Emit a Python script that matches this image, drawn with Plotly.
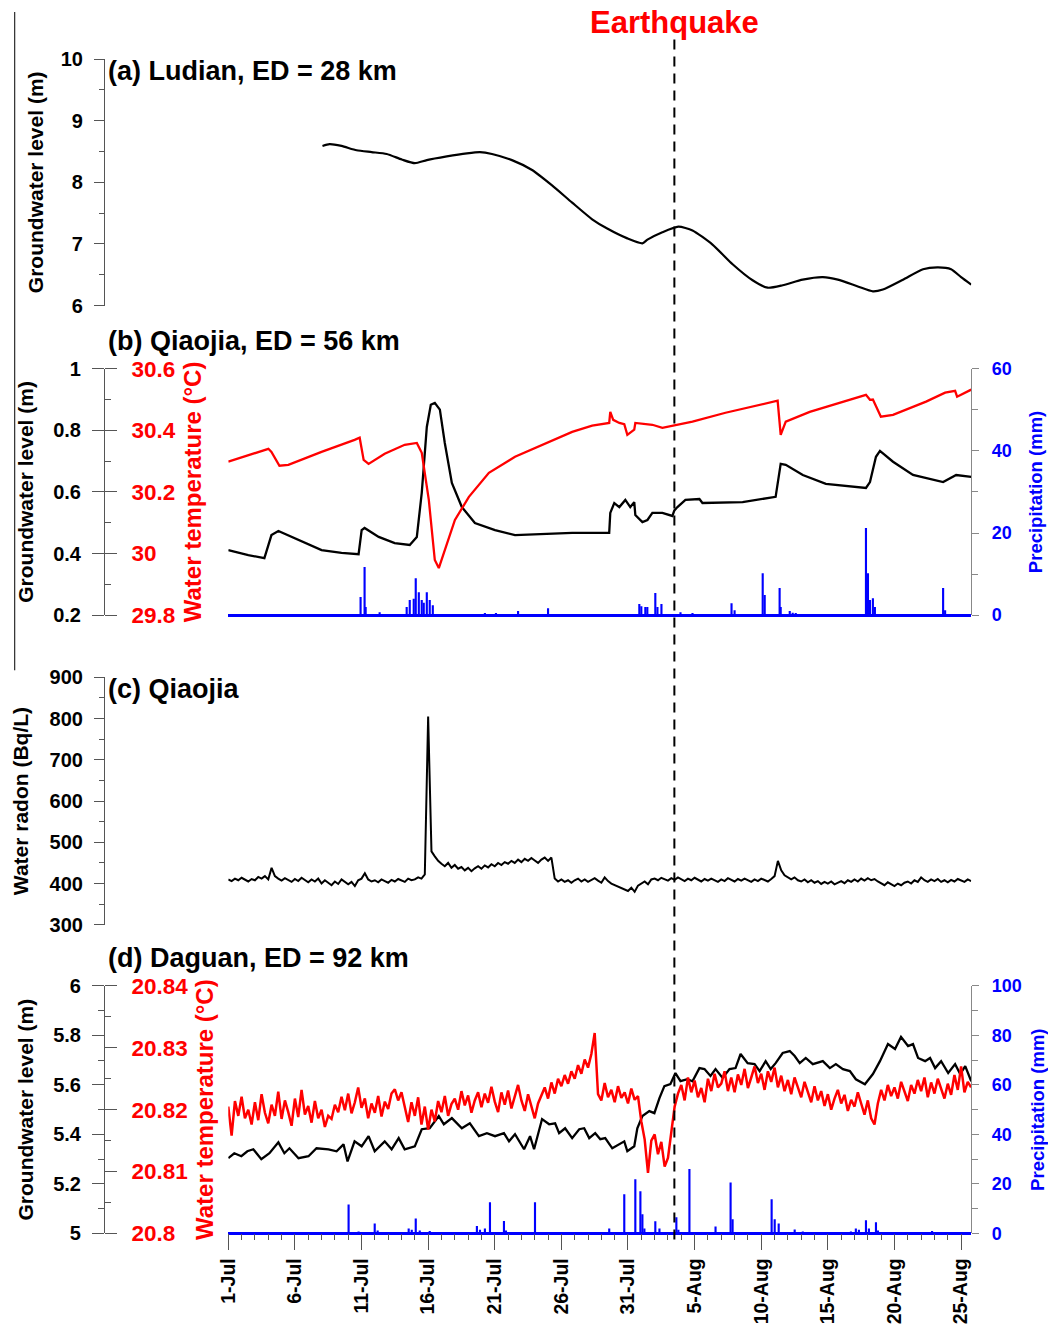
import plotly.graph_objects as go
import pandas as pd

# ---------------- DATA (days after 2014-07-01 00:00) ----------------
EQ_DAY = 33.48  # Ludian earthquake marker

# (a) Ludian groundwater level (m)
LUDIAN_GW = [(7.07, 8.59), (7.60, 8.62), (8.50, 8.59), (9.63, 8.52), (10.76, 8.49),
             (11.89, 8.46), (13.02, 8.37), (14.00, 8.31), (14.90, 8.36), (16.40, 8.42),
             (17.91, 8.47), (18.89, 8.49), (19.79, 8.46), (21.29, 8.36), (22.80, 8.20),
             (24.30, 7.95), (25.81, 7.67), (27.31, 7.40), (28.44, 7.25), (29.95, 7.09),
             (31.08, 7.01), (31.46, 7.07), (32.58, 7.19), (33.78, 7.28), (34.84, 7.22),
             (36.34, 6.99), (37.85, 6.67), (39.35, 6.41), (40.48, 6.29), (41.61, 6.33),
             (43.11, 6.42), (44.62, 6.46), (45.75, 6.42), (47.25, 6.31), (48.38, 6.23),
             (49.13, 6.26), (50.64, 6.42), (52.14, 6.59), (53.27, 6.62), (54.25, 6.59),
             (55.00, 6.46), (55.76, 6.34)]

# (b) Qiaojia groundwater level (m)
QIAOJIA_GW = [(0.00, 0.411), (1.50, 0.395), (2.71, 0.385), (3.24, 0.460), (3.76, 0.473),
              (5.27, 0.444), (7.00, 0.411), (8.50, 0.402), (9.78, 0.398), (10.01, 0.476),
              (10.23, 0.483), (11.29, 0.454), (12.49, 0.434), (13.62, 0.428), (14.15, 0.454),
              (14.52, 0.597), (14.90, 0.811), (15.20, 0.883), (15.50, 0.889), (15.88, 0.867),
              (16.25, 0.759), (16.78, 0.629), (17.53, 0.551), (18.51, 0.499), (20.02, 0.476),
              (21.52, 0.460), (23.33, 0.463), (25.81, 0.467), (27.31, 0.467), (28.59, 0.467),
              (28.67, 0.532), (28.97, 0.564), (29.35, 0.551), (29.80, 0.574), (30.17, 0.551),
              (30.47, 0.567), (30.55, 0.525), (31.08, 0.502), (31.46, 0.509), (31.83, 0.532),
              (32.58, 0.532), (33.33, 0.522), (33.48, 0.540), (33.71, 0.551), (34.31, 0.574),
              (35.36, 0.577), (35.59, 0.564), (38.60, 0.567), (41.08, 0.584), (41.46, 0.691),
              (41.84, 0.688), (43.12, 0.655), (44.85, 0.626), (46.88, 0.616), (47.86, 0.613),
              (48.16, 0.632), (48.61, 0.714), (48.91, 0.733), (49.89, 0.698), (51.39, 0.655),
              (53.65, 0.632), (54.63, 0.655), (55.76, 0.649)]

# (b) Qiaojia water temperature (degC)
QIAOJIA_TEMP = [(0.00, 30.298), (1.50, 30.320), (3.01, 30.340), (3.24, 30.330), (3.84, 30.285),
                (4.51, 30.288), (7.00, 30.330), (9.48, 30.369), (9.86, 30.376), (10.16, 30.304),
                (10.53, 30.291), (11.74, 30.324), (13.24, 30.353), (14.15, 30.359), (14.52, 30.327),
                (15.05, 30.174), (15.50, 29.979), (15.80, 29.953), (16.25, 30.011), (17.01, 30.109),
                (18.06, 30.184), (19.56, 30.262), (21.52, 30.314), (23.55, 30.353), (25.81, 30.395),
                (27.31, 30.415), (28.59, 30.424), (28.67, 30.460), (28.89, 30.434), (29.35, 30.424),
                (29.72, 30.420), (29.95, 30.385), (30.47, 30.402), (30.55, 30.424), (31.83, 30.418),
                (32.58, 30.408), (33.48, 30.415), (34.84, 30.428), (37.32, 30.457), (39.88, 30.483),
                (41.23, 30.496), (41.46, 30.385), (41.84, 30.428), (43.64, 30.460), (46.13, 30.493),
                (47.86, 30.515), (48.16, 30.499), (48.38, 30.500), (48.98, 30.444), (49.89, 30.450),
                (52.37, 30.493), (53.80, 30.522), (54.55, 30.528), (54.70, 30.509), (55.76, 30.532)]

# (b) Qiaojia precipitation (mm)
QIAOJIA_RAIN = [(9.93, 4.4), (10.23, 11.7), (10.31, 2.0), (11.36, 0.7), (13.39, 2.0), (13.62, 3.7),
                (13.92, 4.0), (14.07, 9.0), (14.30, 5.6), (14.52, 3.7), (14.67, 3.0), (14.90, 5.6),
                (15.12, 3.7), (15.35, 2.4), (19.26, 0.5), (20.09, 0.5), (21.75, 1.0), (24.00, 1.7),
                (30.85, 2.7), (31.00, 2.2), (31.30, 2.0), (31.45, 2.0), (32.05, 5.4), (32.21, 2.0),
                (32.51, 2.7), (33.94, 0.7), (34.84, 0.5), (37.77, 2.9), (38.00, 1.2), (40.11, 10.2),
                (40.26, 4.9), (41.38, 6.6), (41.46, 2.0), (42.14, 1.0), (42.36, 0.6), (42.59, 0.5),
                (47.86, 21.2), (48.01, 10.2), (48.16, 3.7), (48.38, 4.1), (48.53, 2.0), (53.65, 6.6),
                (53.80, 1.2)]

# (c) Qiaojia water radon (Bq/L), every 6 h
RADON = [410, 406, 412, 408, 414, 409, 405, 411, 408, 416, 412, 418, 410, 438, 418, 412,
         407, 413, 409, 404, 411, 406, 414, 409, 403, 410, 405, 412, 400, 408, 402, 396,
         405, 399, 410, 403, 398, 404, 394, 408, 412, 425, 410, 405, 408, 403, 410, 406,
         402, 409, 405, 411, 407, 404, 412, 408, 410, 415, 412, 422, 805, 478, 466, 455,
         448, 442, 450, 438, 445, 436, 440, 432, 438, 430, 437, 442, 436, 444, 439, 447,
         442, 450, 445, 452, 448, 455, 450, 458, 452, 460, 455, 462, 456, 450, 458, 463,
         455, 463, 412, 405, 410, 404, 408, 402, 408, 412, 405, 410, 404, 409, 413, 407,
         402, 415, 406, 400, 396, 392, 388, 385, 382, 390, 380, 395, 400, 405, 398, 410,
         412, 408, 414, 410, 407, 413, 409, 415, 410, 406, 412, 408, 414, 409, 405, 411,
         407, 412, 408, 404, 410, 406, 413, 409, 405, 411, 407, 412, 408, 404, 410, 406,
         412, 408, 405, 411, 418, 455, 432, 420, 414, 410, 415, 408, 405, 410, 403, 408,
         402, 406, 399, 404, 400, 405, 398, 403, 406, 401, 408, 404, 410, 405, 412, 407,
         413, 408, 411, 405, 400, 396, 403, 398, 394, 400, 396, 402, 405, 400, 408, 404,
         415, 408, 404, 410, 406, 411, 404, 408, 403, 409, 405, 411, 407, 404, 410, 406]

# (d) Daguan groundwater level (m)
DAGUAN_GW = [(0.00, 5.304), (0.45, 5.324), (0.98, 5.312), (1.43, 5.332), (1.88, 5.340),
             (2.48, 5.300), (3.09, 5.324), (3.76, 5.368), (4.21, 5.324), (4.59, 5.344),
             (5.27, 5.304), (6.02, 5.312), (6.62, 5.344), (7.52, 5.340), (8.13, 5.332),
             (8.65, 5.360), (8.95, 5.291), (9.48, 5.372), (10.01, 5.352), (10.53, 5.393),
             (10.99, 5.332), (11.74, 5.372), (12.26, 5.340), (12.79, 5.385), (13.24, 5.340),
             (14.00, 5.352), (14.52, 5.421), (15.12, 5.425), (15.80, 5.474), (16.18, 5.441),
             (16.78, 5.466), (17.53, 5.425), (18.13, 5.445), (18.81, 5.393), (19.41, 5.405),
             (20.02, 5.393), (20.69, 5.405), (21.07, 5.372), (21.52, 5.401), (22.20, 5.340),
             (22.65, 5.393), (22.95, 5.340), (23.55, 5.462), (24.08, 5.441), (24.53, 5.445),
             (24.83, 5.405), (25.28, 5.425), (25.81, 5.385), (26.34, 5.421), (26.71, 5.425),
             (27.09, 5.385), (27.54, 5.405), (27.92, 5.381), (28.29, 5.385), (28.82, 5.344),
             (29.35, 5.360), (29.72, 5.372), (29.95, 5.332), (30.47, 5.352), (30.70, 5.425),
             (31.08, 5.474), (31.60, 5.494), (31.98, 5.486), (32.36, 5.547), (32.73, 5.595),
             (33.18, 5.603), (33.56, 5.648), (33.94, 5.615), (34.46, 5.623), (34.84, 5.615),
             (35.36, 5.668), (35.74, 5.664), (36.19, 5.636), (36.57, 5.664), (37.10, 5.628),
             (37.62, 5.664), (38.07, 5.668), (38.45, 5.725), (38.98, 5.688), (39.50, 5.684),
             (39.88, 5.656), (40.33, 5.696), (40.71, 5.664), (41.08, 5.688), (41.61, 5.729),
             (42.14, 5.737), (42.51, 5.717), (42.89, 5.688), (43.34, 5.709), (43.87, 5.684),
             (44.62, 5.696), (45.15, 5.668), (45.60, 5.684), (46.13, 5.664), (46.65, 5.656),
             (47.10, 5.623), (47.78, 5.603), (48.38, 5.644), (48.91, 5.696), (49.51, 5.765),
             (50.04, 5.745), (50.49, 5.794), (51.02, 5.757), (51.39, 5.765), (51.77, 5.709),
             (52.30, 5.696), (52.67, 5.709), (53.05, 5.668), (53.50, 5.696), (54.03, 5.648),
             (54.55, 5.684), (54.93, 5.644), (55.31, 5.676), (55.76, 5.615)]

# (d) Daguan water temperature (degC), every 6 h
DAGUAN_TEMP = [
    20.8205, 20.8158, 20.8214, 20.8190, 20.8221, 20.8186, 20.8200, 20.8176,
    20.8212, 20.8183, 20.8225, 20.8195, 20.8178, 20.8208, 20.8190, 20.8229,
    20.8185, 20.8215, 20.8196, 20.8174, 20.8218, 20.8188, 20.8232, 20.8192,
    20.8206, 20.8179, 20.8214, 20.8186, 20.8200, 20.8172, 20.8190, 20.8185,
    20.8208, 20.8196, 20.8221, 20.8199, 20.8226, 20.8194, 20.8212, 20.8236,
    20.8203, 20.8218, 20.8186, 20.8210, 20.8195, 20.8222, 20.8189, 20.8213,
    20.8201, 20.8226, 20.8233, 20.8215, 20.8228, 20.8205, 20.8180, 20.8212,
    20.8190, 20.8220, 20.8176, 20.8205, 20.8168, 20.8200, 20.8181, 20.8214,
    20.8196, 20.8222, 20.8190, 20.8209, 20.8218, 20.8200, 20.8230, 20.8207,
    20.8223, 20.8195, 20.8215, 20.8228, 20.8204, 20.8226, 20.8211, 20.8237,
    20.8213, 20.8196, 20.8228, 20.8208, 20.8231, 20.8202, 20.8219, 20.8240,
    20.8215, 20.8198, 20.8225, 20.8206, 20.8186, 20.8210, 20.8222, 20.8236,
    20.8218, 20.8244, 20.8226, 20.8250, 20.8238, 20.8256, 20.8242, 20.8262,
    20.8250, 20.8272, 20.8258, 20.8281, 20.8268, 20.8290, 20.8324, 20.8225,
    20.8215, 20.8243, 20.8220, 20.8232, 20.8212, 20.8238, 20.8219, 20.8228,
    20.8210, 20.8234, 20.8216, 20.8222, 20.8181, 20.8152, 20.8098, 20.8150,
    20.8160, 20.8128, 20.8148, 20.8108, 20.8122, 20.8165, 20.8205, 20.8226,
    20.8240, 20.8215, 20.8252, 20.8228, 20.8247, 20.8220, 20.8235, 20.8212,
    20.8250, 20.8230, 20.8258, 20.8236, 20.8242, 20.8262, 20.8230, 20.8252,
    20.8228, 20.8257, 20.8240, 20.8266, 20.8235, 20.8252, 20.8270, 20.8243,
    20.8258, 20.8232, 20.8262, 20.8245, 20.8268, 20.8236, 20.8255, 20.8230,
    20.8248, 20.8225, 20.8252, 20.8236, 20.8220, 20.8245, 20.8228, 20.8212,
    20.8238, 20.8215, 20.8230, 20.8206, 20.8225, 20.8200, 20.8218, 20.8232,
    20.8210, 20.8224, 20.8198, 20.8216, 20.8205, 20.8228, 20.8210, 20.8192,
    20.8215, 20.8186, 20.8176, 20.8210, 20.8232, 20.8215, 20.8240, 20.8222,
    20.8236, 20.8218, 20.8245, 20.8228, 20.8214, 20.8240, 20.8226, 20.8248,
    20.8230, 20.8252, 20.8220, 20.8244, 20.8226, 20.8250, 20.8235, 20.8218,
    20.8242, 20.8224, 20.8256, 20.8232, 20.8270, 20.8228, 20.8245, 20.8236]

# (d) Daguan precipitation (mm)
DAGUAN_RAIN = [(9.03, 11.7), (9.78, 0.8), (10.99, 4.0), (11.21, 1.2), (13.54, 2.0), (13.77, 1.5),
               (14.07, 6.0), (14.37, 1.2), (15.12, 1.0), (18.66, 3.0), (18.89, 1.5), (19.26, 2.0),
               (19.64, 12.6), (20.69, 5.0), (20.84, 1.2), (23.02, 12.6), (28.59, 2.0), (29.72, 15.8),
               (30.55, 21.9), (30.93, 17.0), (31.08, 7.7), (31.23, 2.0), (32.05, 4.9), (32.36, 2.0),
               (33.63, 6.5), (33.78, 1.5), (34.61, 26.0), (36.57, 2.8), (37.70, 20.6), (37.85, 5.7),
               (40.78, 13.8), (41.01, 5.7), (41.31, 4.0), (42.51, 1.6), (43.12, 0.8), (46.73, 0.8),
               (47.10, 2.0), (47.33, 1.5), (47.86, 5.3), (48.08, 2.0), (48.61, 4.5), (48.76, 1.2),
               (51.92, 0.5), (52.82, 1.0), (53.72, 0.5)]

X_TICK_STEP_DAYS = 5
SAMPLE_STEP_DAYS = 0.25

# ---------------- helpers ----------------
BASE = pd.Timestamp("2014-07-01")
DAY_MS = 86400000


def t(days):
    return BASE + pd.to_timedelta(list(days), unit="D")


def split(pairs):
    return [p[0] for p in pairs], [p[1] for p in pairs]


FONT = "Liberation Sans, Arial, Helvetica, sans-serif"
BODY = 8                                   # default page margin around the plot div
SX, CX, SY, CY = 0.986, 3.4, 0.9795, 5.2   # measured page -> photo mapping
W, H = 1052, 1350
AXC = "#555555"


def fx(px):
    """target photo x (px) -> paper fraction"""
    return ((px - CX) / SX - BODY) / W


def fy(px):
    """target photo y (px) -> paper fraction"""
    return 1 - ((px - CY) / SY - BODY) / H


XL, XR = fx(227), fx(968)
YPOS = fx(103)

DOM_A = [fy(306), fy(60)]
DOM_B = [fy(615), fy(369)]
DOM_C = [fy(924), fy(677)]
DOM_D = [fy(1232), fy(985)]

fig = go.Figure()

# (a)
d, v = split(LUDIAN_GW)
fig.add_trace(go.Scatter(x=t(d), y=v, mode="lines", line=dict(color="black", width=2.2, shape="spline", smoothing=0.6),
                         xaxis="x", yaxis="y"))
# (b)
d, v = split(QIAOJIA_RAIN)
fig.add_trace(go.Bar(x=t(d), y=v, width=0.16 * DAY_MS, marker=dict(color="#0000ff", line=dict(width=0)),
                     xaxis="x", yaxis="y4"))
d, v = split(QIAOJIA_TEMP)
fig.add_trace(go.Scatter(x=t(d), y=v, mode="lines", line=dict(color="#ff0000", width=2.3), xaxis="x", yaxis="y3"))
d, v = split(QIAOJIA_GW)
fig.add_trace(go.Scatter(x=t(d), y=v, mode="lines", line=dict(color="black", width=2.3), xaxis="x", yaxis="y2"))
# (c)
rd = [i * SAMPLE_STEP_DAYS for i in range(len(RADON))]
fig.add_trace(go.Scatter(x=t(rd), y=RADON, mode="lines", line=dict(color="black", width=2), xaxis="x", yaxis="y5"))
# (d)
d, v = split(DAGUAN_RAIN)
fig.add_trace(go.Bar(x=t(d), y=v, width=0.16 * DAY_MS, marker=dict(color="#0000ff", line=dict(width=0)),
                     xaxis="x", yaxis="y8"))
dd = [i * SAMPLE_STEP_DAYS for i in range(len(DAGUAN_TEMP))]
fig.add_trace(go.Scatter(x=t(dd), y=DAGUAN_TEMP, mode="lines", line=dict(color="#ff0000", width=2.5),
                         xaxis="x", yaxis="y7"))
d, v = split(DAGUAN_GW)
fig.add_trace(go.Scatter(x=t(d), y=v, mode="lines", line=dict(color="black", width=2.3), xaxis="x", yaxis="y6"))


def fnt(size, color="black"):
    return dict(family=FONT, size=size, color=color, weight="bold")


def left_axis(domain, rng, dtick, minor, title, ticklen=10, minor_len=5, standoff=10):
    return dict(domain=domain, range=rng, dtick=dtick, anchor="free", position=YPOS, side="left",
                showline=True, linecolor=AXC, linewidth=1, ticks="outside", ticklen=ticklen, tickwidth=1,
                tickcolor=AXC, showgrid=False, zeroline=False, tickfont=fnt(20), ticklabelstandoff=7,
                minor=dict(dtick=minor, ticks="outside", ticklen=minor_len, tickcolor=AXC, showgrid=False),
                title=dict(text=title, font=fnt(21), standoff=standoff))


def temp_axis(overlay, rng, dtick, minor, standoff):
    return dict(overlaying=overlay, range=rng, dtick=dtick, anchor="free", position=YPOS, side="right",
                showline=False, ticks="outside", ticklen=12, tickwidth=1, tickcolor=AXC, showgrid=False,
                zeroline=False, tickfont=fnt(22.5, "#ff0000"), ticklabelstandoff=10,
                minor=dict(dtick=minor, ticks="outside", ticklen=6, tickcolor=AXC, showgrid=False),
                title=dict(text="Water temperature (°C)", font=fnt(24, "#ff0000"), standoff=standoff))


def rain_axis(overlay, rng, dtick, minor, standoff):
    return dict(overlaying=overlay, range=rng, dtick=dtick, anchor="x", side="right", showline=True,
                linecolor="#888888", linewidth=1, ticks="outside", ticklen=7, tickcolor="#888888",
                showgrid=False, zeroline=True, zerolinecolor="#0000ff", zerolinewidth=2.5,
                tickfont=fnt(18, "#0000ff"), ticklabelstandoff=9,
                minor=dict(dtick=minor, ticks="outside", ticklen=6, tickcolor="#888888", showgrid=False),
                title=dict(text="Precipitation (mm)", font=fnt(18.5, "#0000ff"), standoff=standoff))


fig.update_layout(
    width=W, height=H, margin=dict(l=0, r=0, t=0, b=0), paper_bgcolor="white", plot_bgcolor="white",
    showlegend=False, barmode="overlay",
    xaxis=dict(domain=[XL, XR], anchor="y6", type="date", range=[BASE, BASE + pd.Timedelta(days=55.76)],
               tick0=BASE, dtick=X_TICK_STEP_DAYS * DAY_MS, tickformat="%-d-%b", tickangle=-90,
               ticks="outside", ticklen=16, tickcolor=AXC, tickwidth=1, showline=False, showgrid=False,
               zeroline=False, tickfont=fnt(19.5), ticklabelstandoff=0,
               minor=dict(dtick=DAY_MS, ticks="outside", ticklen=6, tickcolor=AXC, showgrid=False)),
    yaxis=left_axis(DOM_A, [6, 10], 1, 0.5, "Groundwater level (m)", standoff=10),
    yaxis2=left_axis(DOM_B, [0.2, 1], 0.2, 0.1, "Groundwater level (m)", ticklen=12, minor_len=0, standoff=12),
    yaxis3=temp_axis("y2", [29.8, 30.6], 0.2, 0.1, standoff=9),
    yaxis4=rain_axis("y2", [0, 60], 20, 10, standoff=18),
    yaxis5=left_axis(DOM_C, [300, 900], 100, 50, "Water radon (Bq/L)", standoff=14),
    yaxis6=left_axis(DOM_D, [5, 6], 0.2, 0.1, "Groundwater level (m)", ticklen=12, minor_len=6, standoff=12),
    yaxis7=temp_axis("y6", [20.8, 20.84], 0.01, 0.005, standoff=8),
    yaxis8=rain_axis("y6", [0, 100], 20, 10, standoff=10),
)

eq_time = BASE + pd.Timedelta(days=EQ_DAY)
fig.add_shape(type="line", xref="x", yref="paper", x0=eq_time, x1=eq_time, y0=fy(1238), y1=fy(38),
              line=dict(color="black", width=2, dash="10px,7px"))
fig.add_shape(type="line", xref="paper", yref="paper", x0=fx(14), x1=fx(14), y0=fy(670), y1=1,
              line=dict(color="black", width=1))

fig.add_annotation(x=eq_time, xref="x", y=fy(24), yref="paper", text="Earthquake", showarrow=False,
                   font=fnt(31, "#ff0000"), xanchor="center", yanchor="middle")
for label, ypx in [("(a) Ludian, ED = 28 km", 72), ("(b) Qiaojia, ED = 56 km", 341),
                   ("(c) Qiaojia", 689), ("(d) Daguan, ED = 92 km", 957)]:
    fig.add_annotation(x=fx(105), xref="paper", y=fy(ypx), yref="paper", text=label, showarrow=False,
                       font=fnt(27), xanchor="left", yanchor="middle")

fig.write_html("out.html")
